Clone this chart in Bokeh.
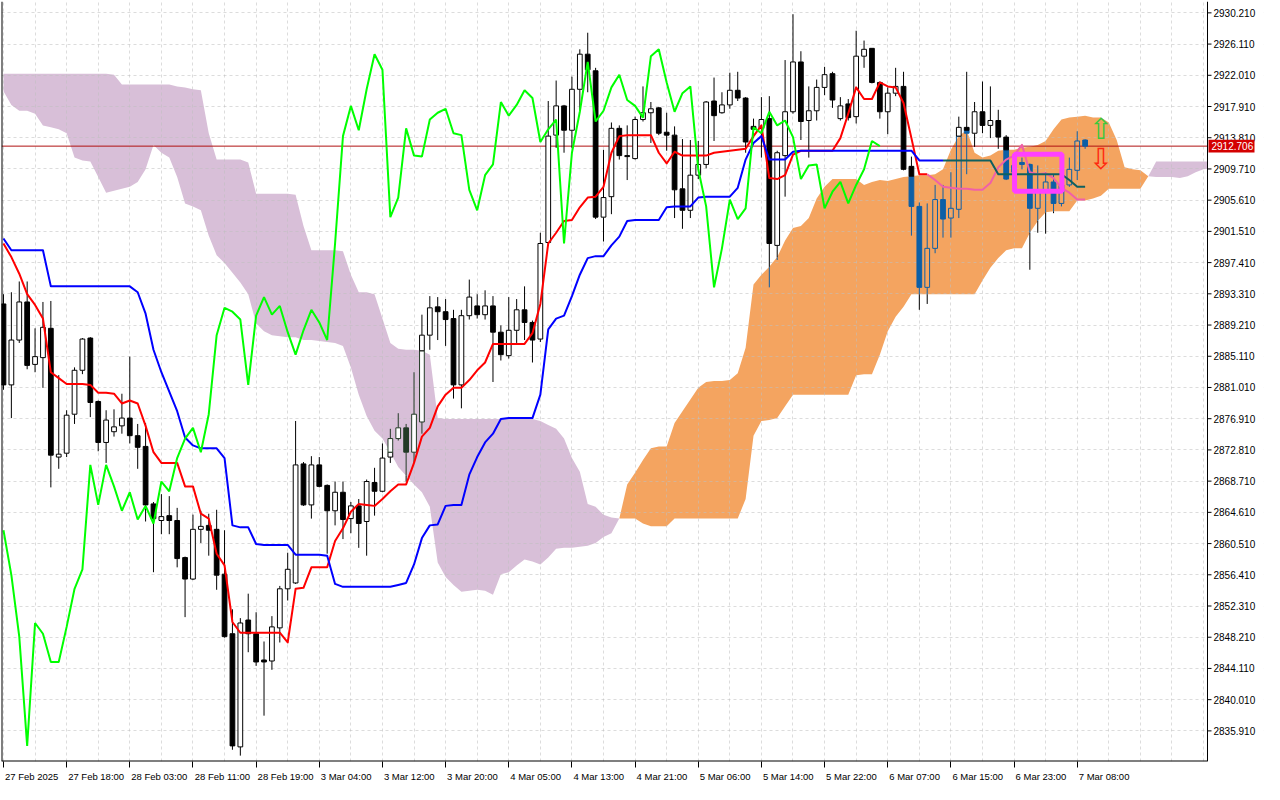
import numpy as np
from bokeh.plotting import figure
from bokeh.models import Range1d, FixedTicker
from bokeh.core.properties import value
from bokeh.embed import file_html
from bokeh.resources import INLINE

# ---------------- data (XAUUSD H1, Ichimoku) ----------------
open_ = [2891.98, 2881.35, 2887.24, 2892.24, 2884.04, 2884.93, 2888.78, 2871.87, 2872.38, 2877.50,
         2883.27, 2887.50, 2879.17, 2873.79, 2875.20, 2875.97, 2876.99, 2874.68, 2873.27, 2865.72,
         2863.54, 2864.18, 2863.54, 2858.67, 2855.85, 2862.38, 2862.90, 2862.38, 2856.49, 2848.67,
         2833.81, 2850.47, 2848.67, 2845.22, 2845.09, 2849.44, 2854.57, 2855.34, 2870.97, 2865.59,
         2870.84, 2868.15, 2864.82, 2867.25, 2863.79, 2865.46, 2863.41, 2868.53, 2867.38, 2871.87,
         2874.30, 2875.71, 2872.51, 2876.48, 2887.88, 2891.60, 2890.96, 2890.06, 2881.35, 2890.44,
         2891.72, 2890.57, 2891.72, 2888.27, 2885.19, 2888.52, 2891.21, 2889.55, 2887.37, 2900.05,
         2914.15, 2917.99, 2914.79, 2920.17, 2924.78, 2922.60, 2903.38, 2906.07, 2915.04, 2911.46,
         2911.07, 2916.20, 2917.09, 2917.73, 2914.53, 2914.15, 2907.10, 2904.28, 2908.89, 2910.30,
         2918.63, 2917.09, 2918.12, 2920.04, 2919.02, 2915.30, 2915.04, 2916.32, 2899.67, 2911.46,
         2917.22, 2923.76, 2916.07, 2917.35, 2920.42, 2922.22, 2916.32, 2918.25, 2916.58, 2924.52,
         2925.55, 2921.07, 2917.22, 2919.66, 2920.55, 2910.05, 2904.79, 2894.16, 2899.28, 2905.69,
         2903.26, 2904.41, 2915.17, 2914.40, 2917.22, 2915.43, 2916.07, 2913.89, 2909.28, 2910.56,
         2910.30, 2904.54, 2906.72, 2908.00, 2905.18, 2907.61, 2909.53, 2913.51]
high = [2893.26, 2893.52, 2894.93, 2894.93, 2888.78, 2892.24, 2892.37, 2882.63, 2878.02, 2883.65,
        2887.50, 2887.62, 2879.30, 2878.02, 2878.14, 2880.19, 2885.06, 2876.22, 2876.35, 2865.97,
        2867.00, 2866.74, 2865.20, 2858.80, 2864.31, 2864.82, 2864.43, 2864.95, 2862.26, 2851.88,
        2850.72, 2853.93, 2851.49, 2847.65, 2850.98, 2854.95, 2859.31, 2876.61, 2871.22, 2871.99,
        2871.87, 2868.28, 2868.66, 2868.66, 2865.97, 2866.36, 2868.92, 2870.46, 2873.66, 2875.58,
        2877.63, 2876.22, 2883.01, 2890.57, 2893.01, 2892.88, 2892.62, 2891.21, 2891.21, 2895.18,
        2893.26, 2893.77, 2893.01, 2889.16, 2892.88, 2892.62, 2894.29, 2889.80, 2901.33, 2918.63,
        2921.32, 2918.12, 2921.83, 2925.42, 2927.60, 2922.99, 2912.22, 2915.81, 2915.43, 2915.43,
        2916.58, 2920.55, 2918.50, 2917.86, 2917.09, 2915.30, 2913.63, 2913.51, 2913.38, 2918.63,
        2921.71, 2919.78, 2922.35, 2922.47, 2919.14, 2916.32, 2919.14, 2919.27, 2912.10, 2924.01,
        2930.03, 2925.17, 2920.55, 2921.45, 2923.12, 2922.47, 2919.14, 2918.89, 2927.86, 2926.57,
        2925.55, 2921.19, 2920.42, 2922.99, 2922.47, 2911.33, 2905.31, 2905.18, 2907.61, 2907.61,
        2909.28, 2916.58, 2922.47, 2918.50, 2921.19, 2920.55, 2917.48, 2914.15, 2911.20, 2911.20,
        2910.43, 2910.17, 2909.28, 2909.02, 2908.64, 2911.20, 2914.66, 2913.60]
low = [2880.71, 2876.99, 2886.86, 2883.40, 2883.01, 2880.96, 2867.89, 2870.33, 2871.87, 2876.22,
       2882.76, 2877.12, 2872.63, 2871.10, 2874.56, 2874.94, 2873.66, 2870.33, 2863.41, 2856.75,
       2861.74, 2861.74, 2857.39, 2850.85, 2855.72, 2860.59, 2858.92, 2854.44, 2848.16, 2833.43,
       2832.66, 2846.24, 2844.45, 2837.91, 2843.93, 2847.52, 2853.03, 2855.21, 2865.46, 2863.79,
       2867.89, 2859.18, 2862.90, 2861.10, 2861.87, 2859.95, 2858.92, 2864.18, 2867.25, 2871.10,
       2874.04, 2868.66, 2871.22, 2874.94, 2885.96, 2887.24, 2886.47, 2879.55, 2878.27, 2889.93,
       2890.06, 2889.93, 2881.73, 2884.55, 2884.81, 2886.86, 2887.24, 2884.29, 2886.98, 2899.67,
       2912.48, 2911.84, 2912.48, 2917.35, 2919.78, 2903.13, 2900.18, 2903.77, 2910.94, 2908.25,
       2910.94, 2915.94, 2913.12, 2914.15, 2912.10, 2903.26, 2901.85, 2903.26, 2908.38, 2909.79,
       2913.38, 2916.97, 2917.61, 2918.63, 2911.84, 2913.76, 2911.20, 2894.16, 2897.75, 2906.07,
       2916.97, 2913.51, 2911.20, 2916.07, 2919.40, 2917.73, 2916.07, 2916.07, 2915.68, 2922.99,
       2920.94, 2916.32, 2914.27, 2919.27, 2909.53, 2900.95, 2891.21, 2891.98, 2898.64, 2900.69,
       2900.69, 2903.26, 2909.02, 2912.61, 2914.40, 2913.76, 2912.35, 2908.25, 2908.00, 2909.66,
       2896.47, 2901.33, 2901.21, 2903.90, 2904.79, 2907.36, 2908.25, 2912.35]
close = [2881.35, 2887.24, 2892.24, 2883.91, 2885.06, 2888.91, 2872.12, 2872.25, 2877.37, 2883.27,
         2887.37, 2879.04, 2873.79, 2876.73, 2875.84, 2876.99, 2874.68, 2873.15, 2865.59, 2863.79,
         2864.05, 2863.54, 2858.54, 2855.85, 2862.38, 2862.77, 2862.26, 2856.36, 2848.29, 2833.94,
         2850.08, 2848.67, 2844.96, 2844.96, 2849.57, 2854.57, 2857.13, 2870.84, 2865.59, 2870.84,
         2868.02, 2864.82, 2867.25, 2863.67, 2865.46, 2863.15, 2868.66, 2867.38, 2871.74, 2874.30,
         2875.71, 2872.51, 2877.50, 2887.88, 2891.47, 2890.96, 2889.93, 2881.35, 2890.44, 2892.88,
         2890.57, 2891.72, 2888.27, 2885.32, 2888.52, 2891.21, 2889.55, 2887.24, 2899.92, 2914.02,
         2917.99, 2914.79, 2920.17, 2924.78, 2922.73, 2903.38, 2905.95, 2915.04, 2911.46, 2911.33,
         2916.20, 2917.09, 2917.61, 2914.40, 2914.15, 2906.97, 2904.28, 2908.89, 2910.30, 2918.50,
         2916.71, 2918.12, 2920.04, 2919.02, 2913.25, 2914.92, 2916.20, 2899.92, 2911.84, 2917.22,
         2923.76, 2915.94, 2917.35, 2920.42, 2922.09, 2918.76, 2917.99, 2916.45, 2924.52, 2925.42,
         2921.07, 2917.22, 2919.66, 2920.55, 2909.66, 2904.79, 2894.16, 2899.28, 2905.69, 2903.13,
         2904.54, 2915.17, 2914.40, 2917.22, 2915.43, 2916.07, 2913.89, 2908.38, 2910.17, 2910.30,
         2904.54, 2906.72, 2908.00, 2905.18, 2907.61, 2909.66, 2913.38, 2912.706]

tenkan = [2899.92, 2898.13, 2895.95, 2893.26, 2891.85, 2890.06, 2883.01, 2882.24, 2881.47, 2881.47,
          2881.47, 2881.35, 2880.32, 2880.32, 2880.19, 2878.91, 2879.30, 2878.91, 2875.97, 2872.51,
          2871.10, 2871.10, 2871.10, 2868.02, 2868.02, 2864.43, 2863.79, 2859.18, 2857.64, 2850.21,
          2848.80, 2848.80, 2848.80, 2848.80, 2848.80, 2848.80, 2847.52, 2854.57, 2854.70, 2857.39,
          2857.39, 2857.39, 2860.85, 2862.51, 2864.69, 2865.72, 2865.59, 2865.46, 2866.36, 2867.38,
          2868.28, 2868.28, 2871.10, 2874.56, 2875.71, 2878.53, 2880.07, 2880.96, 2880.96, 2881.99,
          2883.27, 2884.29, 2886.73, 2886.73, 2886.73, 2886.73, 2886.73, 2888.14, 2891.98, 2899.92,
          2901.33, 2902.87, 2903.00, 2904.67, 2905.95, 2906.07, 2907.36, 2911.84, 2914.02, 2914.15,
          2914.15, 2914.15, 2914.15, 2911.84, 2910.43, 2911.97, 2911.46, 2911.46, 2911.46, 2911.46,
          2911.84, 2911.97, 2912.10, 2912.22, 2912.35, 2914.02, 2915.43, 2908.51, 2908.38, 2908.89,
          2911.58, 2912.10, 2912.10, 2912.10, 2912.10, 2912.10, 2913.76, 2916.97, 2920.42, 2918.89,
          2918.89, 2921.07, 2920.55, 2920.42, 2918.37, 2913.76, 2909.02, 2909.02, 2908.25, 2907.36,
          2907.23, 2907.10, 2907.10, 2906.97, 2906.97, 2907.87, 2909.92, 2910.94, 2911.46, 2912.87,
          2909.28, 2909.02, 2909.15, 2908.51, 2907.23, 2906.59, 2905.69, 2905.69]

kijun = [2900.57, 2899.03, 2899.03, 2899.03, 2899.03, 2899.03, 2894.29, 2894.29, 2894.29, 2894.29,
         2894.29, 2894.29, 2894.29, 2894.29, 2894.29, 2894.29, 2894.29, 2893.52, 2890.70, 2885.96,
         2883.01, 2880.45, 2877.89, 2874.43, 2873.40, 2873.02, 2873.02, 2873.02, 2871.74, 2862.90,
         2862.64, 2862.64, 2860.46, 2860.33, 2860.33, 2860.33, 2860.33, 2859.05, 2859.05, 2859.05,
         2859.05, 2858.92, 2855.21, 2854.83, 2854.83, 2854.83, 2854.83, 2854.83, 2854.83, 2854.83,
         2855.08, 2855.34, 2857.77, 2861.23, 2862.90, 2863.02, 2865.46, 2865.59, 2865.59, 2869.56,
         2871.87, 2873.79, 2874.94, 2876.86, 2876.99, 2876.99, 2876.99, 2876.99, 2880.07, 2888.65,
         2890.06, 2890.44, 2893.01, 2895.82, 2898.00, 2898.26, 2898.26, 2899.67, 2900.82, 2902.87,
         2903.00, 2903.00, 2903.00, 2903.00, 2904.67, 2904.79, 2904.79, 2904.79, 2905.95, 2906.07,
         2906.07, 2906.07, 2906.07, 2907.23, 2910.94, 2913.12, 2914.02, 2910.94, 2910.94, 2910.94,
         2911.97, 2912.10, 2912.10, 2912.10, 2912.10, 2912.10, 2912.10, 2912.10, 2912.10, 2912.10,
         2912.10, 2912.10, 2912.10, 2912.10, 2912.10, 2912.10, 2910.82, 2910.82, 2910.82, 2910.82,
         2910.82, 2910.82, 2910.82, 2910.82, 2910.82, 2910.82, 2909.02, 2909.02, 2909.02, 2909.02,
         2909.02, 2909.02, 2909.02, 2909.02, 2909.02, 2908.25, 2907.36, 2907.36]

# Senkou spans as plotted (already shifted 26 bars forward), bars 0..153
senkou_a = [2919.91, 2918.12, 2917.35, 2917.35, 2916.97, 2915.43, 2915.17, 2914.92, 2914.40, 2911.20,
            2910.82, 2910.69, 2908.64, 2906.59, 2906.84, 2907.10, 2907.36, 2908.00, 2909.66, 2912.87,
            2911.84, 2911.20, 2908.64, 2905.18, 2904.79, 2904.28, 2900.95, 2898.39, 2897.36, 2896.08,
            2894.80, 2893.26, 2889.42, 2888.39, 2887.88, 2887.75, 2887.62, 2887.62, 2887.24, 2887.24,
            2887.11, 2886.98, 2886.86, 2886.47, 2883.65, 2880.07, 2877.25, 2875.32, 2874.30, 2872.51,
            2870.58, 2869.43, 2868.28, 2867.25, 2865.33, 2858.03, 2856.11, 2855.08, 2854.18, 2854.31,
            2854.44, 2854.31, 2853.80, 2856.49, 2856.75, 2857.64, 2858.41, 2858.16, 2857.77, 2858.67,
            2859.82, 2859.95, 2859.95, 2860.08, 2860.21, 2860.59, 2861.36, 2861.87, 2863.79, 2868.28,
            2869.82, 2871.48, 2873.02, 2873.27, 2873.27, 2876.35, 2877.89, 2879.42, 2880.96, 2881.73,
            2881.86, 2881.86, 2881.99, 2882.88, 2886.22, 2894.54, 2895.82, 2896.85, 2898.13, 2900.31,
            2901.97, 2902.23, 2903.26, 2905.82, 2907.36, 2908.38, 2908.38, 2908.38, 2908.38, 2907.61,
            2908.00, 2908.25, 2908.12, 2908.38, 2908.64, 2908.76, 2908.89, 2908.89, 2909.02, 2909.66,
            2912.22, 2914.02, 2914.79, 2911.84, 2911.20, 2911.46, 2912.10, 2912.22, 2912.22, 2912.48,
            2912.61, 2912.87, 2913.38, 2914.92, 2916.20, 2916.45, 2916.58, 2916.71, 2916.45, 2916.45,
            2915.81, 2913.51, 2909.92, 2909.66, 2909.53, 2908.76, 2908.64, 2908.64, 2908.64, 2908.51,
            2908.76, 2909.28, 2909.66, 2909.79]
senkou_b = [2922.22] * 14 + [2922.09] + [2920.81] * 7 + [
            2920.55, 2920.42, 2920.17, 2920.04, 2914.40, 2910.94, 2910.94, 2910.94, 2910.94, 2910.56,
            2906.46, 2906.46, 2906.46, 2906.46, 2906.46, 2906.33, 2902.23, 2899.03, 2899.03, 2899.03,
            2899.03, 2898.90, 2895.82, 2893.52, 2893.52, 2893.26, 2890.06, 2886.86, 2886.09, 2885.96,
            2885.96, 2885.83, 2885.32, 2876.99] + [2876.86] * 12 + [
            2876.61, 2876.09, 2875.58, 2874.30, 2871.74, 2869.94, 2865.72, 2865.33, 2864.31, 2863.92,
            2863.79, 2863.79, 2863.79, 2863.15, 2862.77, 2862.77, 2862.77] + [2863.79] * 9 + [
            2866.36, 2874.68, 2876.61, 2876.73, 2876.99, 2878.53] + [2880.07] * 8 + [
            2882.63, 2882.76, 2882.76, 2885.32, 2888.39, 2890.31, 2891.60] + [2893.26] * 9 + [
            2895.06, 2896.72, 2898.00, 2899.03, 2899.28, 2899.28, 2901.33, 2902.87, 2904.02, 2904.15,
            2904.15, 2904.15, 2905.56, 2905.56, 2905.82, 2906.20, 2907.10, 2907.10, 2907.10, 2907.10,
            2907.10, 2908.76] + [2910.69] * 8

time_labels = ["27 Feb 2025", "27 Feb 18:00", "28 Feb 03:00", "28 Feb 11:00", "28 Feb 19:00",
               "3 Mar 04:00", "3 Mar 12:00", "3 Mar 20:00", "4 Mar 05:00", "4 Mar 13:00",
               "4 Mar 21:00", "5 Mar 06:00", "5 Mar 14:00", "5 Mar 22:00", "6 Mar 07:00",
               "6 Mar 15:00", "6 Mar 23:00", "7 Mar 08:00"]
label_bars = [8 * i for i in range(len(time_labels))]
price_ticks = [round(2835.91 + 4.1 * n, 3) for n in range(24)]

# marked zone (rectangle) and signal arrows
zone_bars = (128.06, 134.06)
zone_prices = (2906.78, 2911.65)
arrow_bar = 139.0
arrow_prices = (2914.92, 2911.07)

# ---------------- layout ----------------
W, H = 1264, 784
MB_B = 21
frame_w, frame_h = W - 2, H - 1 - MB_B
scale_w = 56                                   # price-scale strip, px
x_lo, x_edge = -0.25, 152.5                    # visible bars of the chart area
y_lo, y_hi = 2831.89, 2931.70
ppb = (frame_w - scale_w) / (x_edge - x_lo)    # px per bar
x_hi = x_lo + frame_w / ppb
ppp = frame_h / (y_hi - y_lo)                  # px per price unit
FONT = "Liberation Sans"

p = figure(width=W, height=H, x_range=Range1d(x_lo, x_hi), y_range=Range1d(y_lo, y_hi),
           output_backend="svg", toolbar_location=None, y_axis_location=None,
           min_border_left=1, min_border_top=1, min_border_right=1, min_border_bottom=MB_B,
           background_fill_color="white", border_fill_color="white", outline_line_color=None)

A = np.array(senkou_a)
B = np.array(senkou_b)
ks = np.arange(len(A))
# cloud: sandy brown where A > B, thistle where B > A
p.varea(x=ks, y1=B, y2=np.maximum(A, B), fill_color="#f4a460", level="image")
p.varea(x=ks, y1=A, y2=np.maximum(A, B), fill_color="#d8bfd8", level="image")

# grid
p.xgrid.ticker = FixedTicker(ticks=list(range(0, 153, 4)))
p.ygrid.ticker = FixedTicker(ticks=price_ticks)
p.grid.grid_line_color = "#c0c0c0"
p.grid.grid_line_alpha = 0.55
p.grid.grid_line_dash = "3 3"

# current price line
last_price = close[-1]
p.segment(x0=[x_lo], x1=[x_edge], y0=[last_price], y1=[last_price], line_color="#b01010",
          line_width=1)

# ---------------- candles ----------------
COL_OUT = "black"
COL_ORANGE = "#0d5fa6"
COL_PURPLE = "#233a26"


def cloud_at(i):
    a, b = A[i], B[i]
    if a > b:
        return "o", b, a
    if b > a:
        return "p", a, b
    return None, a, a


def split(lo, hi, clo, chi):
    if hi - lo < 1e-9:
        return [(lo, hi, clo <= lo <= chi)]
    parts = []
    if lo < clo:
        parts.append((lo, min(hi, clo), False))
    a, b = max(lo, clo), min(hi, chi)
    if b > a:
        parts.append((a, b, True))
    if hi > chi:
        parts.append((max(lo, chi), hi, False))
    return [q for q in parts if q[1] >= q[0]]


wx0, wy0, wx1, wy1, wc = [], [], [], [], []
ql, qr, qb, qt, qlc, qfc, qfa = [], [], [], [], [], [], []
bw = 0.3
for i in range(len(close)):
    o, h, l, c = open_[i], high[i], low[i], close[i]
    reg, clo, chi = cloud_at(i)
    incol = {"o": COL_ORANGE, "p": COL_PURPLE, None: COL_OUT}[reg]
    btop, bbot = max(o, c), min(o, c)
    for lo_, hi_ in ((btop, h), (l, bbot)):
        if hi_ - lo_ <= 0:
            continue
        for s0, s1, ins in split(lo_, hi_, clo, chi):
            wx0.append(i); wx1.append(i); wy0.append(s0); wy1.append(s1)
            wc.append(incol if ins else COL_OUT)
    bull = c > o
    for s0, s1, ins in split(bbot, btop, clo, chi):
        lc = incol if ins else COL_OUT
        ql.append(i - bw); qr.append(i + bw); qb.append(s0); qt.append(s1)
        qlc.append(lc)
        if bull:
            qfc.append("white")
            qfa.append(0.0 if (ins and reg == "o") else 1.0)
        else:
            qfc.append(lc)
            qfa.append(1.0)

p.segment(x0=wx0, y0=wy0, x1=wx1, y1=wy1, line_color=wc, line_width=1)
p.quad(left=ql, right=qr, bottom=qb, top=qt, line_color=qlc, fill_color=qfc,
       fill_alpha=qfa, line_width=1)


# ---------------- indicator lines ----------------
def colored_runs(vals, base, alt):
    xs, ys, cols = [], [], []
    cur_x, cur_y, cur_c = [0], [vals[0]], None
    for i in range(len(vals) - 1):
        mid = (vals[i] + vals[i + 1]) / 2
        a = (A[i] + A[i + 1]) / 2
        b = (B[i] + B[i + 1]) / 2
        col = alt if (a > b and b <= mid <= a) else base
        if cur_c is None:
            cur_c = col
        if col != cur_c:
            xs.append(cur_x); ys.append(cur_y); cols.append(cur_c)
            cur_x, cur_y, cur_c = [i], [vals[i]], col
        cur_x.append(i + 1); cur_y.append(vals[i + 1])
    xs.append(cur_x); ys.append(cur_y); cols.append(cur_c)
    return xs, ys, cols


xs, ys, cols = colored_runs(tenkan, "#ff0000", "#f060a8")
p.multi_line(xs, ys, line_color=cols, line_width=2, line_join="round")
xs, ys, cols = colored_runs(kijun, "#0000ff", "#0f6060")
p.multi_line(xs, ys, line_color=cols, line_width=2, line_join="round")

lag = 26
chikou_x = list(range(len(close) - lag))
chikou_y = close[lag:]
p.line(chikou_x, chikou_y, line_color="#00ff00", line_width=2)

# marked zone and arrows
p.quad(left=[zone_bars[0]], right=[zone_bars[1]], bottom=[zone_prices[0]], top=[zone_prices[1]],
       fill_alpha=0, line_color="#ff40ff", line_width=5)
p.text(x=[arrow_bar, arrow_bar], y=list(arrow_prices), text=["\u21e7", "\u21e9"],
       text_color=["#3cc83c", "#ff2a10"], text_font_size="29px", text_align="center",
       text_baseline="middle", text_font=value("DejaVu Sans"))

# ---------------- price scale strip (right) ----------------
p.quad(left=[x_edge], right=[x_hi + 1], bottom=[y_lo - 1], top=[y_hi + 1],
       fill_color="white", line_color=None)
# chart borders: left, bottom, right edge of the chart area
p.multi_line(xs=[[x_lo, x_lo], [x_lo, x_edge]], ys=[[y_lo, y_hi], [y_lo, y_lo]],
             line_color="black", line_width=2)
p.segment(x0=[x_edge], x1=[x_edge], y0=[y_lo], y1=[y_hi], line_color="black", line_width=1)
# price ticks and labels
p.segment(x0=[x_edge] * len(price_ticks), x1=[x_edge + 4 / ppb] * len(price_ticks),
          y0=price_ticks, y1=price_ticks, line_color="black", line_width=1)
p.text(x=[x_edge + 6 / ppb] * len(price_ticks), y=price_ticks,
       text=[f"{v:.3f}" for v in price_ticks], text_font=value(FONT),
       text_font_size="10px", text_color="black", text_align="left", text_baseline="middle")
# current price tag
p.quad(left=[x_edge + 1 / ppb], right=[x_edge + 47 / ppb],
       bottom=[last_price - 6.5 / ppp], top=[last_price + 6.5 / ppp],
       fill_color="#d40000", line_color=None)
p.text(x=[x_edge + 4 / ppb], y=[last_price], text=[f"{last_price:.3f}"], text_font=value(FONT),
       text_font_size="10px", text_color="white", text_align="left", text_baseline="middle")


# ---------------- time axis ----------------
def text_w(s, size=9.5):
    w = 0.0
    for ch in s:
        if ch.isdigit():
            w += 0.556
        elif ch in " :.":
            w += 0.278
        elif ch == "M":
            w += 0.833
        elif ch == "F":
            w += 0.611
        elif ch == "r":
            w += 0.333
        else:
            w += 0.556
    return w * size


centers = [round(b + (text_w(t) / 2 + 1.5) / ppb, 3) for b, t in zip(label_bars, time_labels)]
xax = p.xaxis[0]
xax.ticker = FixedTicker(ticks=centers, minor_ticks=label_bars)
xax.major_label_overrides = {c: t for c, t in zip(centers, time_labels)}
xax.major_tick_line_color = None
xax.minor_tick_line_color = "black"
xax.minor_tick_out = 6
xax.minor_tick_in = 0
xax.major_label_standoff = 3
xax.major_label_text_font = FONT
xax.major_label_text_font_size = "9.5px"
xax.major_label_text_color = "black"
xax.axis_line_color = None

open("out.html", "w").write(file_html(p, INLINE))
